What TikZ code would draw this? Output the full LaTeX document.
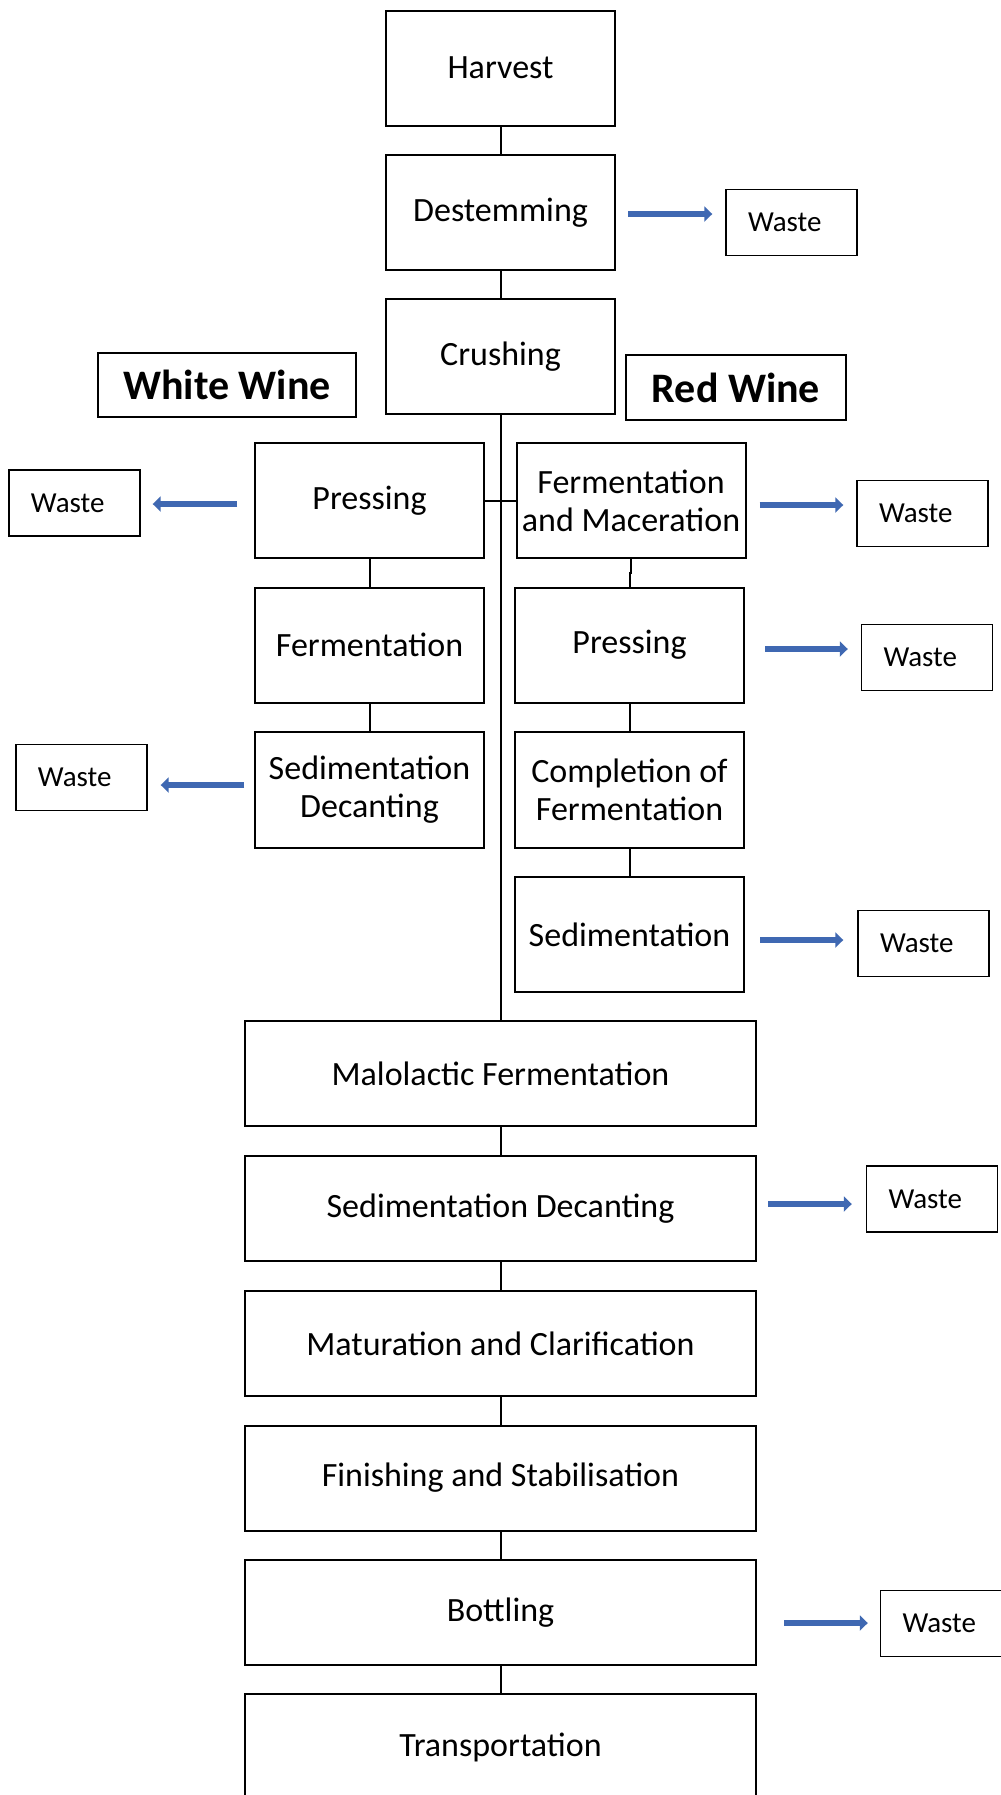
\documentclass[tikz,border=0pt]{standalone}
\usepackage{fontspec}
\setmainfont{Carlito}
\usetikzlibrary{arrows.meta,calc}
\definecolor{arrowblue}{HTML}{3F68B2}
\begin{document}
\begin{tikzpicture}[x=0.5pt,y=-0.5pt,
  stepbox/.style={draw=black, line width=1pt, minimum width=114.5pt, minimum height=57.5pt,
    inner sep=1pt, align=center, font=\fontsize{17}{19}\selectfont},
  widebox/.style={draw=black, line width=1pt, minimum width=255.5pt, minimum height=52.5pt,
    inner sep=1pt, align=center, font=\fontsize{17}{19}\selectfont},
  wastebox/.style={draw=black, line width=0.7pt, minimum height=33pt, text width=43.5pt,
    inner xsep=11pt, inner ysep=0pt, align=left, font=\fontsize{14.5}{17}\selectfont},
  winebox/.style={draw=black, line width=0.7pt, inner sep=0pt, align=center,
    font=\fontsize{21}{24}\selectfont\bfseries},
  link/.style={draw=black, line width=1pt},
  wastearrow/.style={draw=arrowblue, line width=2.8pt, -{Triangle[length=4pt,width=7.5pt]}}
]
\useasboundingbox (0,0) rectangle (1001,1795);
\fill[white] (0,0) rectangle (1001,1795);

% main column
\node[stepbox] (harvest) at (500.5,68) {Harvest};
\node[stepbox] (destem) at (500.5,212.5) {Destemming};
\node[stepbox] (crush) at (500.5,356.5) {Crushing};

\node[winebox, minimum width=129pt, minimum height=32pt] (white) at (227,385) {White Wine};
\node[winebox, minimum width=110pt, minimum height=32.5pt] (red) at (736,387.5) {Red Wine};

% white wine column
\node[stepbox] (wpress) at (369.5,500.5) {Pressing};
\node[stepbox] (wferm) at (369.5,645) {Fermentation};
\node[stepbox, minimum height=58pt] (wsed) at (369.5,790) {Sedimentation\\Decanting};

% red wine column
\node[stepbox] (rferm) at (631,500.5) {Fermentation\\and Maceration};
\node[stepbox] (rpress) at (629.5,645) {Pressing};
\node[stepbox, minimum height=58pt] (rcomp) at (629.5,790) {Completion of\\Fermentation};
\node[stepbox] (rsed) at (629.5,934.5) {Sedimentation};

% common column
\node[widebox] (malo) at (500.5,1073.5) {Malolactic Fermentation};
\node[widebox] (sdec) at (500.5,1208.5) {Sedimentation Decanting};
\node[widebox] (mat) at (500.5,1343.5) {Maturation and Clarification};
\node[widebox] (fin) at (500.5,1478) {Finishing and Stabilisation};
\node[widebox] (bott) at (500.5,1612.5) {Bottling};
\node[widebox, minimum height=53pt] (trans) at (500.5,1747) {Transportation};

% waste boxes
\node[wastebox] (w1) at (791.5,222.5) {Waste};
\node[wastebox] (wl1) at (74.5,503) {Waste};
\node[wastebox] (wr1) at (922.5,513.5) {Waste};
\node[wastebox] (wr2) at (927,657.5) {Waste};
\node[wastebox] (wl2) at (81.5,777.5) {Waste};
\node[wastebox] (wr3) at (923.5,943.5) {Waste};
\node[wastebox] (wr4) at (932,1199) {Waste};
\node[wastebox] (wr5) at (946,1623.5) {Waste};

% connectors
\draw[link] (harvest.south) -- (destem.north);
\draw[link] (destem.south) -- (crush.north);
\draw[link] (crush.south) -- (malo.north);
\draw[link] (wpress.east) -- (rferm.west);
\draw[link] (wpress.south) -- (wferm.north);
\draw[link] (wferm.south) -- (wsed.north);
\draw[link] (rferm.south) -- ++(0,14) -| (rpress.north);
\draw[link] (rpress.south) -- (rcomp.north);
\draw[link] (rcomp.south) -- (rsed.north);
\draw[link] (malo.south) -- (sdec.north);
\draw[link] (sdec.south) -- (mat.north);
\draw[link] (mat.south) -- (fin.north);
\draw[link] (fin.south) -- (bott.north);
\draw[link] (bott.south) -- (trans.north);

% waste arrows
\draw[wastearrow] ($(destem.east)+(12,1.5)$) -- ($(w1.west)+(-13,-8.5)$);
\draw[wastearrow] ($(wpress.west)+(-17,3.5)$) -- ($(wl1.east)+(-0.0,0)+(12,1)$);
\draw[wastearrow] ($(rferm.east)+(13,4.5)$) -- ($(wr1.west)+(-13,-8.5)$);
\draw[wastearrow] ($(rpress.east)+(20,4)$) -- ($(wr2.west)+(-13,-8.5)$);
\draw[wastearrow] ($(wsed.west)+(-10,-5)$) -- ($(wl2.east)+(13,7.5)$);
\draw[wastearrow] ($(rsed.east)+(15,5.5)$) -- ($(wr3.west)+(-14,-3.5)$);
\draw[wastearrow] ($(sdec.east)+(11,-4.5)$) -- ($(wr4.west)+(-14,5)$);
\draw[wastearrow] ($(bott.east)+(27,10.5)$) -- ($(wr5.west)+(-12,-0.5)$);
\end{tikzpicture}
\end{document}
